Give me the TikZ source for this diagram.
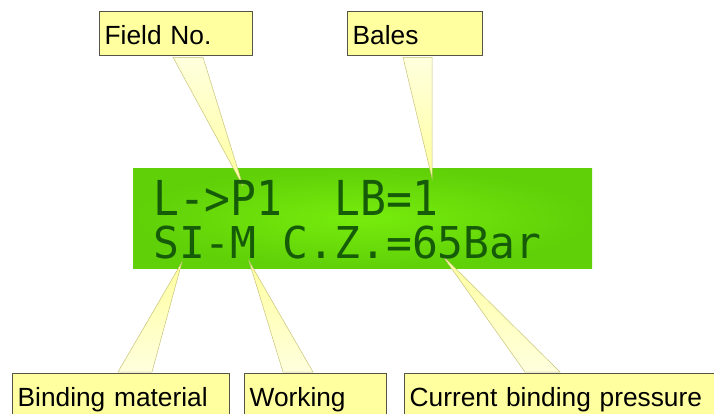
\documentclass[tikz,border=0pt]{standalone}
\usepackage{fontspec}
\setmainfont{Liberation Sans}
\newfontfamily\lcdfont{DejaVu Sans Mono}
\usepackage{xcolor}
\usepackage{tikz}
\usetikzlibrary{positioning,calc,backgrounds}
\definecolor{notebg}{RGB}{255,255,160}
\definecolor{noteline}{RGB}{85,85,70}
\definecolor{lcdgreen}{RGB}{118,236,12}
\definecolor{lcdedge}{RGB}{96,208,8}
\definecolor{lcdtext}{RGB}{22,92,8}
\definecolor{beamline}{RGB}{200,195,120}

\begin{document}
\begin{tikzpicture}[
    x=1pt, y=-1pt,
    note/.style={draw=noteline, line width=1.3pt, fill=notebg, anchor=north west,
        inner xsep=5pt, inner ysep=2pt, text height=31pt, text depth=9pt,
        align=left, font=\fontsize{26.3}{30}\selectfont},
    beam/.style={top color=notebg!35, bottom color=notebg, draw=beamline, line width=0.5pt},
    beamup/.style={top color=notebg, bottom color=notebg!35, draw=beamline, line width=0.5pt},
    lcd/.style={anchor=base west, inner sep=0pt, text=lcdtext, font=\lcdfont\fontsize{43}{43}\selectfont}
]
\useasboundingbox (0,0) rectangle (714,413);
\clip (0,0) rectangle (714,413);

% display text
\node[lcd] (row1) at (153,215) {\scalebox{1}[1.12]{L->P1~~LB=1}};
\node[lcd] (row2) at (153,258) {\scalebox{1}[1.02]{SI-M~C.Z.=65Bar}};

% pointer tips
\coordinate (tipfield) at (243,186);
\coordinate (tipbales) at (432,178);
\coordinate (tipbind) at (182,262);
\coordinate (tipwork) at (249,261);
\coordinate (tippress) at (442,255);

% labels
\node[note, text width=143pt] (field) at (99,11) {Field No.};
\node[note, text width=125pt] (bales) at (347,11) {Bales};
\node[note, text width=207pt] (bind) at (12,373) {Binding material};
\node[note, text width=132pt] (work) at (244,373) {Working};
\node[note, text width=320pt] (press) at (404,373) {Current binding pressure};

% display and beams
\begin{scope}[on background layer]
\shade[inner color=lcdgreen, outer color=lcdedge] (133,168) rectangle (592,268);
\path[beam] ($(field.south west)+(74,1)$) -- ($(field.south west)+(104,1)$) -- (tipfield) -- cycle;
\path[beam] ($(bales.south west)+(56,1)$) -- ($(bales.south west)+(85,1)$) -- (tipbales) -- cycle;
\path[beamup] (tipbind) -- ($(bind.north west)+(106,-1)$) -- ($(bind.north west)+(140,-1)$) -- cycle;
\path[beamup] (tipwork) -- ($(work.north west)+(39,-1)$) -- ($(work.north west)+(69,-1)$) -- cycle;
\path[beamup] (tippress) -- ($(press.north west)+(121,-1)$) -- ($(press.north west)+(156,-1)$) -- cycle;
\end{scope}
\end{tikzpicture}
\end{document}
